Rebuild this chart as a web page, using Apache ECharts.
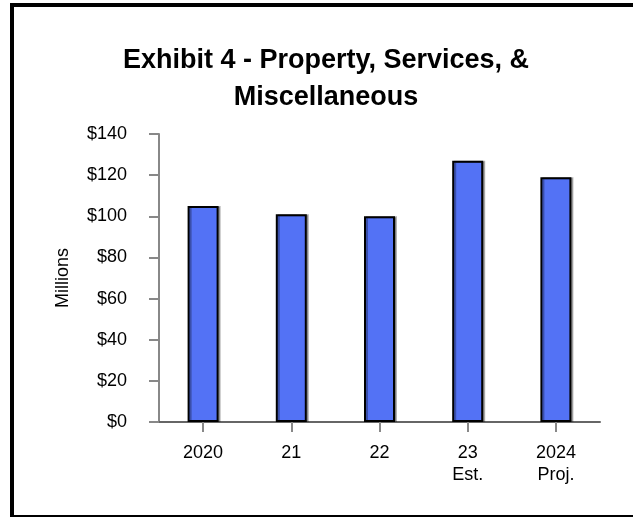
<!DOCTYPE html>
<html>
<head>
<meta charset="utf-8">
<script src="https://cdn.jsdelivr.net/npm/echarts@6/dist/echarts.min.js"></script>
<style>
  html, body { margin: 0; padding: 0; background: #ffffff; }
  #chart { width: 633px; height: 517px; }
</style>
</head>
<body>
<div id="chart"></div>
<script>
// Fiscal years on the category axis, with a second label line for estimates/projections
const years = ['2020', '21', '22', '23', '2024'];
const yearNotes = ['', '', '', 'Est.', 'Proj.'];
// Revenue in millions of dollars
const revenue = [105, 101, 100, 127, 119];
// Value axis ticks
const yTicks = [0, 20, 40, 60, 80, 100, 120, 140];

const FONT = '"Liberation Sans", Arial, sans-serif';
const categories = years.map((y, i) => yearNotes[i] ? y + '\n' + yearNotes[i] : y);

const chart = echarts.init(document.getElementById('chart'), null, { renderer: 'canvas' });
chart.setOption({
  animation: false,
  backgroundColor: '#ffffff',
  title: {
    text: 'Exhibit 4 - Property, Services, &\nMiscellaneous',
    left: 321,
    top: 37,
    textAlign: 'center',
    textStyle: { fontFamily: FONT, fontSize: 27, fontWeight: 'bold', color: '#000', lineHeight: 37 }
  },
  graphic: [{
    type: 'rect',
    shape: { x: 12, y: 5, width: 640, height: 512 },
    style: { fill: 'none', stroke: '#000', lineWidth: 4 },
    silent: true
  }],
  grid: { left: 159, right: 33, top: 134, bottom: 95 },
  xAxis: {
    type: 'category',
    data: categories,
    axisLine: { show: true, lineStyle: { color: '#666', width: 2 } },
    axisTick: { show: true, alignWithLabel: true, length: 10, lineStyle: { color: '#888', width: 2 } },
    axisLabel: { color: '#000', fontFamily: FONT, fontSize: 18, lineHeight: 22, margin: 20 },
    splitLine: { show: false }
  },
  yAxis: {
    type: 'value',
    min: yTicks[0],
    max: yTicks[yTicks.length - 1],
    interval: yTicks[1] - yTicks[0],
    name: 'Millions',
    nameLocation: 'middle',
    nameGap: 87,
    nameRotate: 90,
    nameTextStyle: { color: '#000', fontFamily: FONT, fontSize: 18 },
    axisLine: { show: true, lineStyle: { color: '#888', width: 2 } },
    axisTick: { show: true, length: 10, lineStyle: { color: '#888', width: 2 } },
    axisLabel: { color: '#000', fontFamily: FONT, fontSize: 18, margin: 32, formatter: v => '$' + v },
    splitLine: { show: false }
  },
  series: [{
    type: 'bar',
    data: revenue,
    barWidth: 31,
    itemStyle: {
      color: '#5372F5',
      borderColor: '#000',
      borderWidth: 2,
      shadowColor: 'rgba(0,0,0,0.3)',
      shadowOffsetX: 2,
      shadowOffsetY: 0,
      shadowBlur: 0
    }
  }]
});
</script>
</body>
</html>
